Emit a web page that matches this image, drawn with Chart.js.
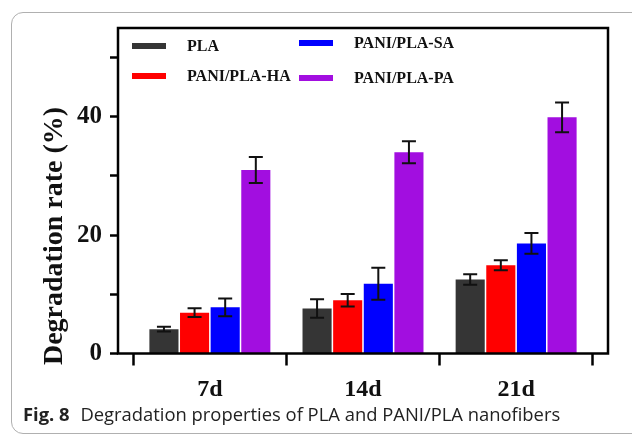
<!DOCTYPE html>
<html>
<head>
<meta charset="utf-8">
<script src="https://cdn.jsdelivr.net/npm/chart.js@4/dist/chart.umd.min.js"></script>
<style>
    body { margin: 0; background: #fff; }
    #wrap { position: relative; width: 632px; height: 436px; overflow: hidden; }
    #frame {
        position: absolute; left: 11px; top: 12px; width: 660px; height: 420px;
        border: 1px solid #b0b0b0; border-radius: 12px;
    }
    #caption {
        position: absolute; left: 23px; top: 401px; white-space: nowrap;
        font-family: "Open Sans", sans-serif; font-size: 18.4px; color: #222;
    }
    #caption b { font-weight: 700; margin-right: 6px; }
    canvas { position: absolute; left: 0; top: 0; }
</style>
</head>
<body>
<div id="wrap">
    <div id="frame"></div>
    <canvas id="canvas_degradation" width="632" height="436"></canvas>
    <div id="caption"><b>Fig. 8</b> Degradation properties of PLA and PANI/PLA nanofibers</div>
</div>
<script>
const jours = ['7d', '14d', '21d'];
const series = ['PLA', 'PANI/PLA-HA', 'PANI/PLA-SA', 'PANI/PLA-PA'];
const couleurs = ['#353535', '#ff0000', '#0000ff', '#a20ee0'];
const pla = [4.1, 7.6, 12.5];
const pla_ha = [6.9, 9.0, 14.9];
const pla_sa = [7.8, 11.8, 18.6];
const pla_pa = [31.0, 34.0, 39.9];
const err_pla = [0.4, 1.55, 0.9];
const err_ha = [0.75, 1.05, 0.85];
const err_sa = [1.5, 2.7, 1.75];
const err_pa = [2.2, 1.85, 2.5];

const valeurs = [pla, pla_ha, pla_sa, pla_pa];
const erreurs = [err_pla, err_ha, err_sa, err_pa];

Chart.defaults.font.family = '"Liberation Serif", "Times New Roman", serif';
Chart.defaults.font.weight = 'bold';
Chart.defaults.color = '#111';

// legend drawn inside the frame, two columns
const legende_positions = [[132, 46], [132, 76], [299, 43], [299, 78]];
const legende_plugin = {
    id: 'legende',
    afterDraw(chart) {
        const ctx = chart.ctx;
        ctx.save();
        ctx.font = 'bold 16px "Liberation Serif", serif';
        ctx.textBaseline = 'middle';
        chart.data.datasets.forEach(function (ds, i) {
            const p = legende_positions[i];
            ctx.fillStyle = ds.backgroundColor;
            ctx.fillRect(p[0], p[1] - 3, 34, 6);
            ctx.fillStyle = '#111';
            ctx.fillText(ds.label, p[0] + 55, p[1] + 1);
        });
        ctx.restore();
    }
};

// frame + y title (title sits lower than the axis centre in the original)
const cadre_plugin = {
    id: 'cadre',
    afterDraw(chart) {
        const a = chart.chartArea, ctx = chart.ctx;
        ctx.save();
        ctx.strokeStyle = '#000';
        ctx.lineWidth = 2.5;
        ctx.strokeRect(a.left, a.top, a.right - a.left, a.bottom - a.top);
        ctx.translate(55, 236);
        ctx.rotate(-Math.PI / 2);
        ctx.font = 'bold 28px "Liberation Serif", serif';
        ctx.fillStyle = '#111';
        ctx.textAlign = 'center';
        ctx.textBaseline = 'middle';
        ctx.fillText('Degradation rate (%)', 0, 0);
        ctx.restore();
    }
};

const erreurs_plugin = {
    id: 'erreurs',
    afterDatasetsDraw(chart) {
        const ctx = chart.ctx, y = chart.scales.y;
        ctx.save();
        ctx.strokeStyle = '#111';
        ctx.lineWidth = 2;
        chart.data.datasets.forEach(function (ds, i) {
            const meta = chart.getDatasetMeta(i);
            meta.data.forEach(function (bar, j) {
                const v = valeurs[i][j], e = erreurs[i][j];
                const haut = y.getPixelForValue(v + e), bas = y.getPixelForValue(v - e);
                ctx.beginPath();
                ctx.moveTo(bar.x, haut); ctx.lineTo(bar.x, bas);
                ctx.moveTo(bar.x - 7, haut); ctx.lineTo(bar.x + 7, haut);
                ctx.moveTo(bar.x - 7, bas); ctx.lineTo(bar.x + 7, bas);
                ctx.stroke();
            });
        });
        ctx.restore();
    }
};

let chart_datas = {
    datasets: series.map(function (nom, i) {
        return {
            label: nom,
            backgroundColor: couleurs[i],
            data: valeurs[i].map(function (v, j) { return { x: j + 1, y: v }; }),
            categoryPercentage: 0.8,
            barPercentage: 0.95
        };
    })
};

let options = {
    responsive: false,
    animation: false,
    layout: { padding: { left: 38, right: 24, top: 28, bottom: 36 } },
    plugins: {
        legend: { display: false },
        tooltip: { enabled: false }
    },
    scales: {
        x: {
            type: 'linear',
            min: 0.4,
            max: 3.6,
            offset: false,
            afterFit: function (s) { s.height = 436 - 36 - 353.5; },
            grid: { drawOnChartArea: false, tickLength: 12, color: '#000', tickWidth: 2.5 },
            border: { display: false },
            ticks: {
                stepSize: 1,
                includeBounds: false,
                padding: 10,
                font: { size: 24 },
                callback: function (v) { return jours[v - 1] || ''; }
            }
        },
        y: {
            min: 0,
            max: 55,
            afterFit: function (s) { s.width = 118 - 38; },
            grid: { drawOnChartArea: false, tickLength: 8, color: '#000', tickWidth: 2.5 },
            border: { display: false },
            ticks: {
                stepSize: 10,
                includeBounds: false,
                padding: 8,
                font: { size: 25 },
                callback: function (v) { return v % 20 === 0 ? v : ''; }
            }
        }
    }
};

const graph = new Chart(document.getElementById('canvas_degradation'), {
    type: 'bar',
    data: chart_datas,
    options: options,
    plugins: [erreurs_plugin, cadre_plugin, legende_plugin]
});
</script>
</body>
</html>
